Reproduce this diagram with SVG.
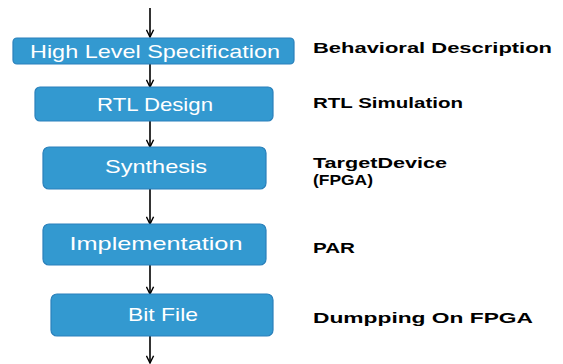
<svg xmlns="http://www.w3.org/2000/svg" width="563" height="364" viewBox="0 0 563 364">
<defs>
<marker id="ah" viewBox="0 0 10 10" refX="9" refY="5" markerWidth="9" markerHeight="9" markerUnits="userSpaceOnUse" orient="auto">
<path d="M1,1 L9,5 L1,9" fill="none" stroke="#000" stroke-width="1.6"/>
</marker>
<style>
.box{fill:#3399d0;stroke:#2a80bb;stroke-width:1.2}
.bt{font-family:"Liberation Sans",Arial,sans-serif;font-size:19px;fill:#fff;text-anchor:middle;dominant-baseline:central}
.lb{font-family:"Liberation Sans",Arial,sans-serif;font-size:15.5px;font-weight:bold;fill:#000}
.cn{stroke:#000;stroke-width:1.6;fill:none;marker-end:url(#ah)}
</style>
</defs>
<rect width="563" height="364" fill="#fff"/>
<g id="connectors">
<line class="cn" x1="150" y1="8" x2="150" y2="37"/>
<line class="cn" x1="150" y1="64" x2="150" y2="87"/>
<line class="cn" x1="150" y1="121" x2="150" y2="147"/>
<line class="cn" x1="150" y1="189" x2="150" y2="224"/>
<line class="cn" x1="150" y1="265" x2="150" y2="294"/>
<line class="cn" x1="150" y1="336" x2="150" y2="363"/>
</g>
<g id="n1"><rect class="box" x="13" y="38" width="281" height="26" rx="4"/><text class="bt" x="155" y="51" textLength="250" lengthAdjust="spacingAndGlyphs">High Level Specification</text></g>
<g id="n2"><rect class="box" x="35" y="87" width="238" height="34" rx="5"/><text class="bt" x="155" y="104" textLength="116" lengthAdjust="spacingAndGlyphs">RTL Design</text></g>
<g id="n3"><rect class="box" x="43" y="147" width="223" height="42" rx="6"/><text class="bt" x="156" y="166" textLength="102" lengthAdjust="spacingAndGlyphs">Synthesis</text></g>
<g id="n4"><rect class="box" x="43" y="224" width="223" height="41" rx="6"/><text class="bt" x="156" y="243" textLength="173" lengthAdjust="spacingAndGlyphs">Implementation</text></g>
<g id="n5"><rect class="box" x="51" y="294" width="222" height="42" rx="6"/><text class="bt" x="163" y="314" textLength="70" lengthAdjust="spacingAndGlyphs">Bit File</text></g>
<g id="labels">
<text class="lb" x="313" y="53" textLength="239" lengthAdjust="spacingAndGlyphs">Behavioral  Description</text>
<text class="lb" x="313" y="108" textLength="150" lengthAdjust="spacingAndGlyphs">RTL Simulation</text>
<text class="lb" x="313" y="168" textLength="134" lengthAdjust="spacingAndGlyphs">TargetDevice</text>
<text class="lb" x="313" y="184.5" textLength="60" lengthAdjust="spacingAndGlyphs">(FPGA)</text>
<text class="lb" x="313" y="253" textLength="42" lengthAdjust="spacingAndGlyphs">PAR</text>
<text class="lb" x="313" y="323" textLength="220" lengthAdjust="spacingAndGlyphs">Dumpping On FPGA</text>
</g>
</svg>
